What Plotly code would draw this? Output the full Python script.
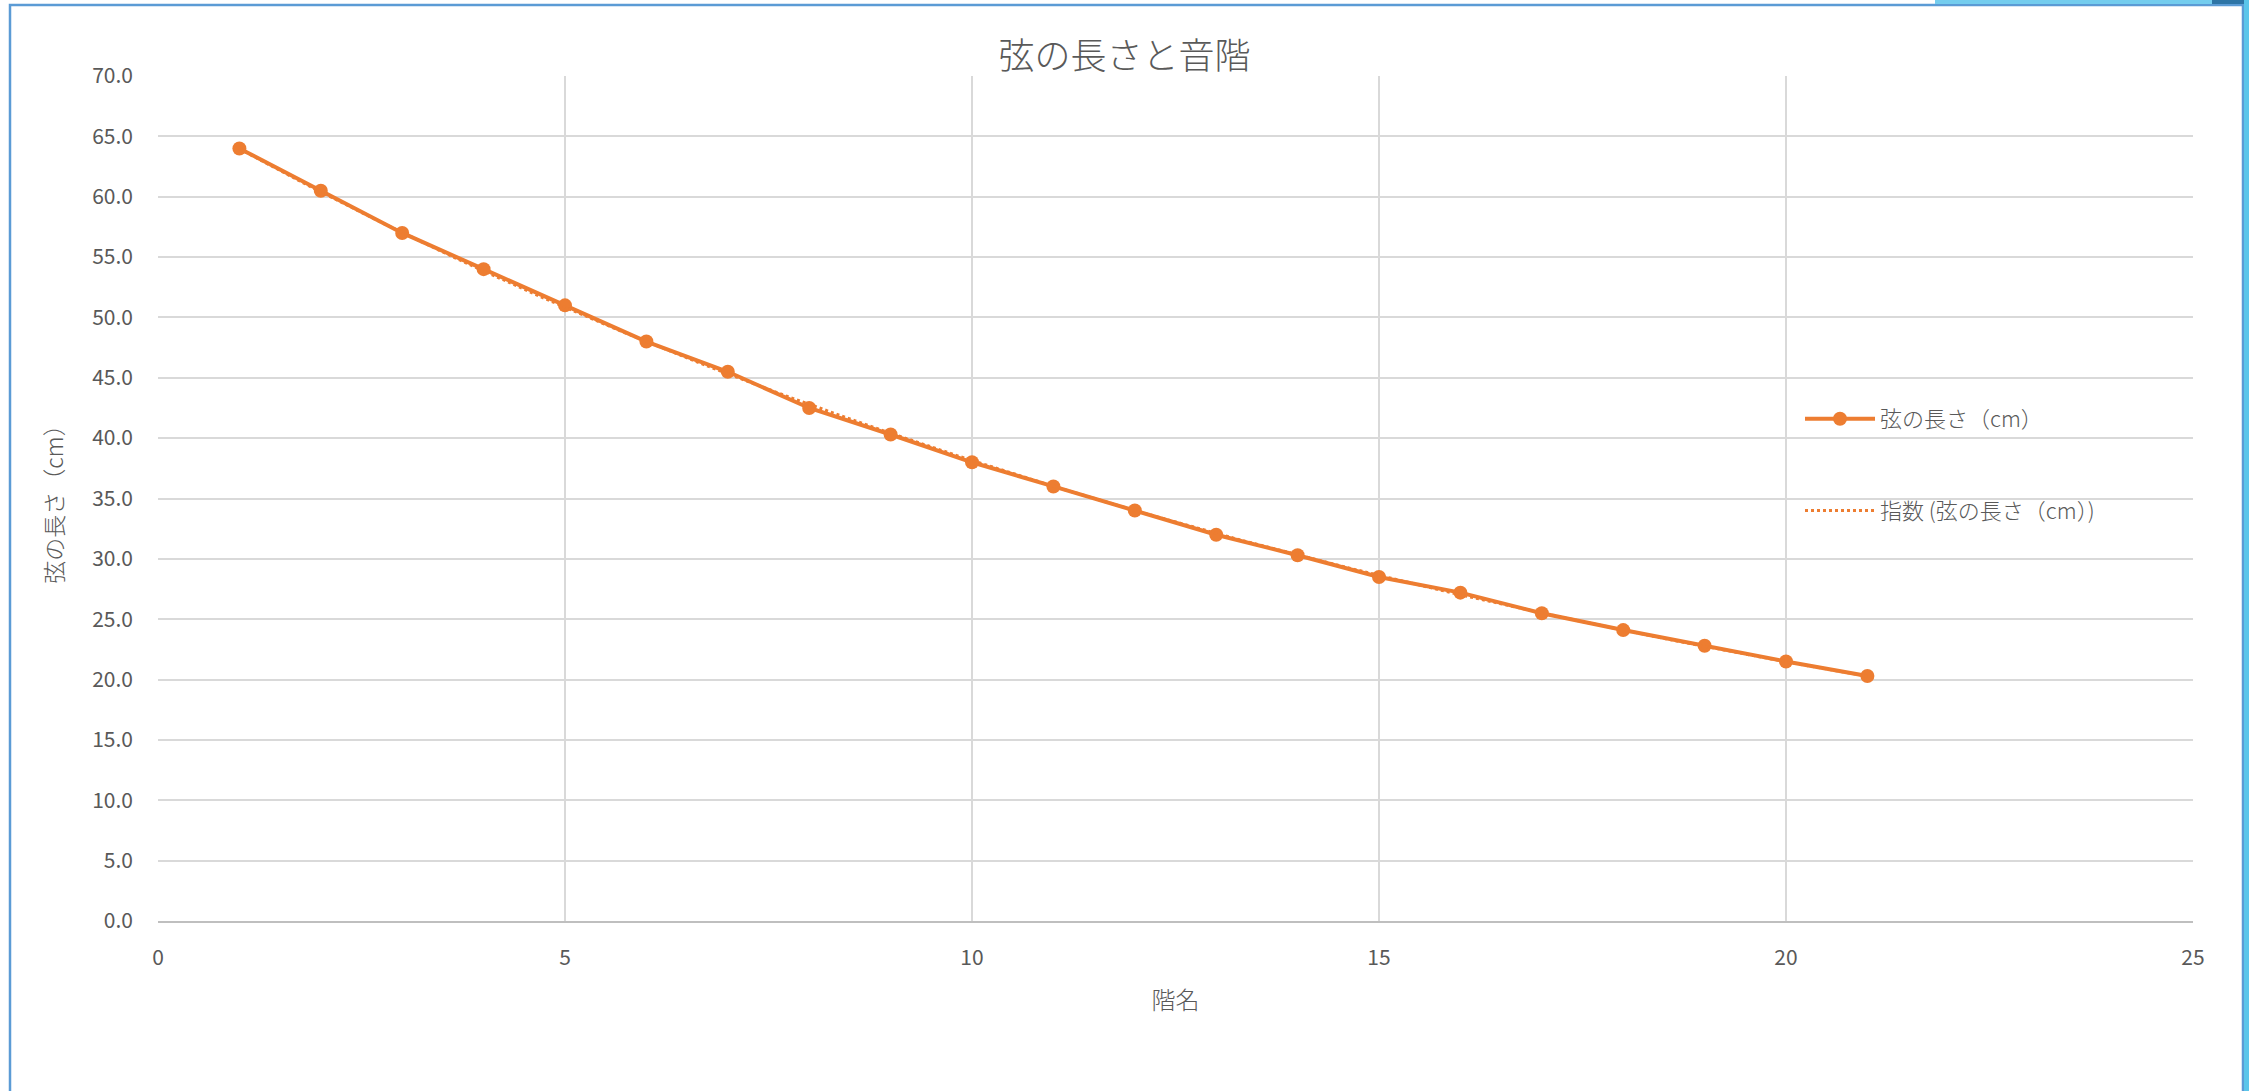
import numpy as np
import plotly.graph_objects as go

# 階名（音の番号）と弦の長さ（cm）
steps = list(range(1, 22))
lengths = [64.0, 60.5, 57.0, 54.0, 51.0, 48.0, 45.5, 42.5, 40.3, 38.0,
           36.0, 34.0, 32.0, 30.3, 28.5, 27.2, 25.5, 24.1, 22.8, 21.5, 20.3]

x_ticks = [0, 5, 10, 15, 20, 25]
y_ticks = [0, 5, 10, 15, 20, 25, 30, 35, 40, 45, 50, 55, 60, 65, 70]

series_name = "弦の長さ（cm）"
trend_name = "指数 (弦の長さ（cm）)"

ORANGE = "#ED7D31"
GRID = "#D9D9D9"
TEXT = "#595959"
FONT = "Noto Sans CJK JP"

W, H = 2249, 1091
L, R, T, B = 158, 56, 76, 170
PW, PH = W - L - R, H - T - B


def px_x(x):
    return (x - L) / PW


def px_y(y):
    return (H - B - y) / PH


# 指数近似曲線 y = a * exp(b x)（最小二乗で対数をフィット）
xs = np.array(steps, dtype=float)
b, ln_a = np.polyfit(xs, np.log(lengths), 1)
trend_x = np.linspace(xs.min(), xs.max(), 200)
trend_y = np.exp(ln_a) * np.exp(b * trend_x)

fig = go.Figure()
fig.add_trace(go.Scatter(
    x=steps, y=lengths, mode="lines+markers", name=series_name,
    line=dict(color=ORANGE, width=4),
    marker=dict(color=ORANGE, size=14),
    legendgroup="a",
))
fig.add_trace(go.Scatter(
    x=trend_x, y=trend_y, mode="lines", name=trend_name,
    line=dict(color=ORANGE, width=3, dash="dot"),
    legendgroup="b",
))

fig.update_layout(
    width=W, height=H,
    paper_bgcolor="white", plot_bgcolor="white",
    margin=dict(l=L, r=R, t=T, b=B, autoexpand=False),
    font=dict(family=FONT, color=TEXT, size=21),
    title=dict(text="弦の長さと音階", x=0.5, xanchor="center",
               y=1 - 56 / H, yanchor="middle",
               font=dict(size=36, color=TEXT, family=FONT, weight=300)),
    showlegend=True,
    legend=dict(x=px_x(1800), y=px_y(398), xanchor="left", yanchor="top",
                font=dict(size=22, color=TEXT, family=FONT, weight=300),
                bgcolor="rgba(0,0,0,0)", itemwidth=70, tracegroupgap=60,
                traceorder="grouped"),
)

fig.update_xaxes(
    range=[0, 25], tickvals=x_ticks, showgrid=True, gridcolor=GRID, gridwidth=2,
    zeroline=False, showline=True, linecolor="#BFBFBF", linewidth=2,
    ticks="", ticklabelstandoff=17, tickfont=dict(size=21, color=TEXT),
    title=dict(text="階名", standoff=22,
               font=dict(size=24, color=TEXT, weight=300)),
)
fig.update_yaxes(
    range=[0, 70], tickvals=y_ticks, tickformat=".1f", showgrid=True,
    gridcolor=GRID, gridwidth=2, zeroline=False, showline=False,
    ticks="", ticklabelstandoff=24, tickfont=dict(size=21, color=TEXT),
    title=dict(text=series_name, standoff=22,
               font=dict(size=23, color=TEXT, weight=300)),
)

# チャート枠（選択時の青い枠線）と上端のリボン部分
fig.add_shape(type="rect", xref="paper", yref="paper",
              x0=px_x(10), x1=px_x(2243), y0=px_y(1200), y1=px_y(5),
              line=dict(color="#5B9BD5", width=2.5), fillcolor="rgba(0,0,0,0)",
              layer="below")
fig.add_shape(type="rect", xref="paper", yref="paper",
              x0=px_x(1935), x1=px_x(2212), y0=px_y(4), y1=px_y(-2),
              line=dict(width=0), fillcolor="#74CDEE")
fig.add_shape(type="rect", xref="paper", yref="paper",
              x0=px_x(2212), x1=px_x(2250), y0=px_y(4), y1=px_y(-2),
              line=dict(width=0), fillcolor="#2E75A6")
fig.add_shape(type="rect", xref="paper", yref="paper",
              x0=px_x(2244), x1=px_x(2250), y0=px_y(1100), y1=px_y(-2),
              line=dict(width=0), fillcolor="#5BC5EA")

fig.write_html("out.html")
